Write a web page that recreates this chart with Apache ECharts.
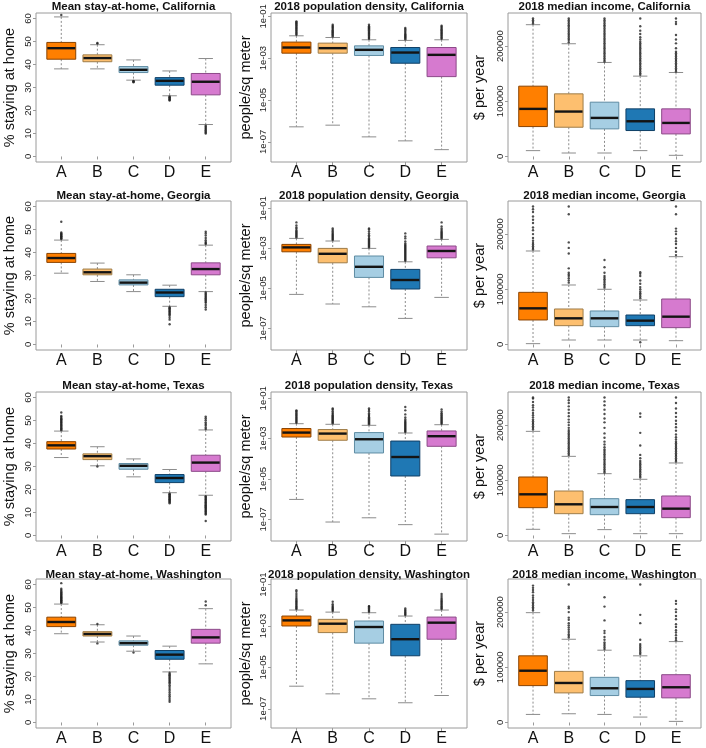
<!DOCTYPE html>
<html><head><meta charset="utf-8">
<script src="https://cdn.jsdelivr.net/npm/echarts@6/dist/echarts.min.js"></script>
<style>html,body{margin:0;padding:0;background:#fff}#c{width:706px;height:748px}</style>
</head><body><div id="c"></div>
<script>
// ---------------- data ----------------
const categories = ['A', 'B', 'C', 'D', 'E'];
const states = ['California', 'Georgia', 'Texas', 'Washington'];
const stayTicks = [0, 10, 20, 30, 40, 50, 60];
const densityTicks = [-7, -5, -3, -1];          // log10 exponents
const incomeTicks = [0, 100000, 200000];

// box stats: [lower whisker, Q1, median, Q3, upper whisker]
// Mean stay-at-home (%)
const stayCA = [[38.1, 42.3, 47.1, 49.6, 60.7], [38.1, 41.2, 42.8, 44.2, 48.6], [33.2, 36.5, 37.7, 39.1, 42.0], [26.4, 31.0, 32.9, 34.3, 37.2], [13.9, 26.8, 32.5, 36.1, 42.6]];
const stayGA = [[31.0, 35.7, 37.6, 39.6, 45.4], [27.4, 30.3, 31.4, 32.8, 35.4], [23.0, 25.9, 26.9, 28.1, 30.3], [16.6, 20.8, 22.6, 24.0, 25.8], [23.0, 30.3, 32.8, 35.5, 43.2]];
const stayTX = [[33.9, 37.6, 39.2, 40.8, 45.4], [30.3, 33.0, 34.5, 35.5, 38.6], [25.5, 28.8, 30.3, 31.3, 33.3], [18.6, 23.0, 25.0, 26.5, 28.7], [17.5, 27.9, 31.7, 34.9, 45.9]];
const stayWA = [[38.6, 41.7, 43.7, 45.8, 51.5], [35.0, 37.6, 38.5, 39.5, 42.5], [31.0, 33.6, 34.5, 35.5, 37.6], [22.0, 27.5, 29.5, 31.3, 33.2], [25.5, 34.5, 37.0, 40.5, 49.5]];
const stayCAOut = [[61.5], [49.1, 49.4], [32.9, 32.7, 32.5, 32.3], [26.1, 25.8, 25.5, 25.2, 24.9, 24.6, 24.3], [13.4, 12.9, 12.4, 11.9, 11.4, 10.9, 10.4, 10.0]];
const stayGAOut = [[45.9, 46.2, 46.5, 46.8, 47.1, 47.4, 47.7, 48.0, 48.3, 48.7, 53.4], [], [], [16.2, 15.8, 15.4, 15.0, 14.6, 14.2, 13.8, 13.4, 13.0, 12.5, 11.6, 10.8, 8.8], [43.7, 44.1, 44.6, 45.3, 46.3, 47.4, 48.3, 49.0, 22.6, 22.1, 21.6, 21.1, 20.6, 20.1, 19.6, 19.1, 18.6, 18.1, 17.2, 16.2, 15.2]];
const stayTXOut = [[45.8, 46.2, 46.6, 47.0, 47.4, 47.8, 48.2, 48.6, 49.0, 49.4, 49.8, 50.2, 50.6, 51.0, 51.5, 52.0, 53.5], [30.0], [], [18.2, 17.9, 17.6, 17.3, 17.0, 16.7, 16.4, 16.1, 15.8, 15.5, 15.2, 14.9, 14.5, 14.0], [46.3, 47.0, 47.8, 48.5, 49.2, 50.1, 51.0, 51.7, 17.1, 16.7, 16.3, 15.9, 15.5, 15.1, 14.7, 14.3, 13.9, 13.5, 13.1, 12.7, 12.3, 11.9, 11.5, 11.1, 10.7, 10.3, 9.9, 9.5, 9.1, 6.3]];
const stayWAOut = [[52.0, 52.3, 52.6, 52.9, 53.2, 53.5, 53.8, 54.1, 54.4, 54.7, 55.0, 55.4, 55.8, 56.2, 56.6, 57.1, 57.6, 58.2, 60.6], [34.4, 42.8], [30.4], [21.5, 21.0, 20.5, 20.0, 19.5, 19.0, 18.5, 18.0, 17.5, 17.0, 16.2, 15.4, 14.6, 13.8, 13.0, 12.2, 11.4, 10.6, 9.8, 9.0], [51.0, 52.6]];

// 2018 population density, log10(people / sq meter)
const denCA = [[-6.28, -2.76, -2.49, -2.23, -1.93], [-6.20, -2.76, -2.52, -2.28, -2.01], [-6.76, -2.87, -2.60, -2.41, -2.12], [-6.95, -3.24, -2.73, -2.49, -2.15], [-7.37, -3.88, -2.84, -2.49, -2.12]];
const denGA = [[-5.30, -3.17, -2.95, -2.80, -2.50], [-5.78, -3.72, -3.27, -3.00, -2.63], [-5.92, -4.45, -3.92, -3.38, -3.00], [-6.50, -5.03, -4.58, -4.05, -3.67], [-5.45, -3.47, -3.13, -2.88, -2.55]];
const denTX = [[-6.01, -2.92, -2.70, -2.50, -2.26], [-7.13, -3.08, -2.75, -2.55, -2.29], [-6.92, -3.71, -3.03, -2.70, -2.34], [-7.26, -4.85, -3.91, -3.12, -2.72], [-7.73, -3.38, -2.88, -2.62, -2.31]];
const denWA = [[-5.91, -3.00, -2.73, -2.52, -2.23], [-6.28, -3.32, -2.89, -2.68, -2.33], [-6.52, -3.83, -3.05, -2.76, -2.36], [-6.71, -4.44, -3.64, -2.92, -2.52], [-6.36, -3.64, -2.84, -2.57, -2.23]];
const denCAOut = [[-1.88, -1.83, -1.78, -1.73, -1.68, -1.63, -1.58, -1.53, -1.48, -1.43, -1.38, -1.33, -1.28, -1.24], [-1.96, -1.91, -1.86, -1.81, -1.76, -1.71, -1.66, -1.61, -1.56, -1.51, -1.46, -1.40], [-2.07, -2.02, -1.97, -1.92, -1.87, -1.82, -1.77, -1.72, -1.67, -1.62, -1.57, -1.52, -1.47, -1.40], [-2.10, -2.05, -2.00, -1.95, -1.90, -1.85, -1.80, -1.74, -1.68, -1.62, -1.56], [-2.07, -2.02, -1.97, -1.92, -1.87, -1.82, -1.77, -1.72, -1.67, -1.62, -1.56, -1.50, -1.45]];
const denGAOut = [[-2.45, -2.40, -2.35, -2.30, -2.25, -2.20, -2.15, -2.10, -2.02, -1.95, -1.85, -1.70], [-2.58, -2.53, -2.48, -2.43, -2.38, -2.33, -2.28, -2.22, -2.15, -2.08, -2.00], [-2.95, -2.90, -2.85, -2.80, -2.75, -2.70, -2.65, -2.60, -2.55, -2.50, -2.42, -2.34, -2.25, -2.15, -2.05, -2.00], [-3.62, -3.57, -3.52, -3.47, -3.42, -3.37, -3.32, -3.27, -3.22, -3.17, -3.12, -3.07, -3.02, -2.97, -2.92, -2.87, -2.82, -2.75, -2.65, -2.50, -2.40, -2.25], [-2.50, -2.45, -2.40, -2.35, -2.30, -2.25, -2.20, -2.15, -2.08, -2.00, -1.90, -1.70]];
const denTXOut = [[-2.21, -2.16, -2.11, -2.06, -2.01, -1.96, -1.91, -1.86, -1.81, -1.76, -1.70, -1.64, -1.60], [-2.24, -2.19, -2.14, -2.09, -2.04, -1.99, -1.94, -1.89, -1.84, -1.78, -1.72, -1.64, -1.56, -1.51], [-2.29, -2.24, -2.19, -2.14, -2.09, -2.04, -1.99, -1.94, -1.88, -1.82, -1.75, -1.66, -1.58, -1.51], [-2.67, -2.62, -2.57, -2.52, -2.47, -2.42, -2.37, -2.32, -2.27, -2.22, -2.17, -2.12, -2.05, -1.95, -1.80, -1.60, -1.43], [-2.26, -2.21, -2.16, -2.11, -2.06, -2.01, -1.96, -1.91, -1.86, -1.80, -1.74, -1.66, -1.56]];
const denWAOut = [[-2.18, -2.13, -2.08, -2.03, -1.98, -1.93, -1.88, -1.83, -1.78, -1.72, -1.65, -1.55, -1.45, -1.35, -1.27], [-2.28, -2.23, -2.18, -2.13, -2.08, -2.02, -1.95, -1.83], [-2.31, -2.26, -2.21, -2.16, -2.11, -2.06, -2.04], [-2.47, -2.42, -2.37, -2.32, -2.27, -2.22, -2.15], [-2.18, -2.13, -2.08, -2.03, -1.98, -1.93, -1.88, -1.83, -1.78, -1.72, -1.65, -1.55, -1.45]];

// 2018 median income ($ per year)
const incCA = [[10600, 54200, 86250, 127400, 238800], [6300, 53000, 81400, 113500, 204300], [6300, 50000, 69900, 98400, 170400], [10600, 47000, 63800, 86300, 145600], [2100, 40900, 60800, 86300, 152200]];
const incGA = [[1500, 44400, 65500, 94500, 169400], [8100, 34100, 47400, 64300, 107800], [8100, 32300, 47400, 60700, 100000], [8100, 34100, 43200, 53400, 80600], [6900, 30500, 50400, 82400, 159100]];
const incTX = [[11200, 50400, 74600, 106000, 188700], [3300, 39500, 56500, 80600, 143400], [10600, 37700, 51600, 66700, 112000], [3300, 39500, 51600, 64900, 101800], [3300, 32300, 48600, 71600, 131400]];
const incWA = [[14600, 66800, 93800, 120800, 199000], [15800, 53600, 71600, 92600, 150800], [14600, 48800, 62000, 81800, 131000], [9800, 45800, 60800, 75800, 120800], [2000, 44600, 63800, 86600, 146600]];
const incCAOut = [[241000, 244000, 247000, 250000], [207000, 211000, 214000, 217000, 220000, 223000, 226000, 229000, 232000, 235000, 238000, 241000, 244000, 247000, 250000], [172000, 175000, 178000, 181000, 184000, 187000, 190000, 193000, 196000, 199000, 202000, 205000, 208000, 211000, 214000, 217000, 220000, 223000, 226000, 229000, 232000, 235000, 238000, 241000, 244000, 247000, 250000], [148000, 151000, 154000, 157000, 160000, 163000, 166000, 169000, 172000, 175000, 178000, 181000, 184000, 187000, 190000, 193000, 196000, 199000, 202000, 205000, 208000, 212000, 216000, 222000, 228000, 236000, 250000], [154000, 157000, 160000, 163000, 166000, 169000, 172000, 175000, 178000, 181000, 184000, 187000, 190000, 196000, 205000, 212000, 220000, 240000, 244000, 250000]];
const incGAOut = [[172000, 175000, 178000, 181000, 184000, 188000, 193000, 200000, 207000, 212000, 220000, 226000, 232000, 240000, 245000, 250000], [112000, 116000, 120000, 124000, 127000, 130000, 138000, 165000, 175000, 185000, 236000, 250000], [103000, 106000, 109000, 112000, 115000, 118000, 121000, 124000, 130000, 140000, 153000], [84000, 87000, 90000, 93000, 96000, 100000, 104000, 110000, 116000, 124000, 128000, 131000, 4000], [162000, 168000, 175000, 182000, 187000, 192000, 200000, 205000, 210000, 236000, 250000]];
const incTXOut = [[192000, 195000, 198000, 201000, 204000, 207000, 210000, 214000, 218000, 222000, 227000, 232000, 236000, 242000, 248000, 250000], [146000, 149000, 152000, 155000, 158000, 161000, 164000, 167000, 170000, 173000, 176000, 179000, 182000, 185000, 188000, 191000, 195000, 200000, 205000, 210000, 216000, 222000, 228000, 234000, 240000, 245000, 250000], [114000, 117000, 120000, 123000, 126000, 129000, 132000, 135000, 138000, 141000, 144000, 147000, 150000, 153000, 156000, 160000, 165000, 170000, 177000, 185000, 195000, 205000, 212000, 220000, 228000, 236000, 243000, 250000], [105000, 108000, 111000, 114000, 117000, 120000, 123000, 126000, 129000, 132000, 135000, 140000, 146000, 163000, 186000, 215000, 221000], [134000, 137000, 140000, 143000, 146000, 149000, 152000, 155000, 158000, 161000, 164000, 167000, 170000, 174000, 178000, 183000, 190000, 196000, 202000, 208000, 215000, 222000, 230000, 240000, 250000]];
const incWAOut = [[203000, 206000, 209000, 212000, 215000, 218000, 222000, 226000, 230000, 236000, 240000, 244000, 248000], [154000, 157000, 160000, 164000, 168000, 172000, 176000, 180000, 186000, 190000, 200000, 207000, 210000, 250000], [133000, 136000, 139000, 142000, 145000, 150000, 155000, 162000, 166000, 185000, 210000, 227000], [124000, 127000, 130000, 133000, 136000, 139000, 142000, 150000, 180000, 195000, 250000], [149000, 153000, 158000, 163000, 167000, 173000, 178000, 187000, 193000, 200000, 205000, 215000, 220000]];

// ---------------- layout / style ----------------
const FONT = "'Liberation Sans', Arial, Helvetica, sans-serif";
const fills = ['#FF7F00', '#FDBF6F', '#A6CEE3', '#1F78B4', '#D67ACF'];
const borders = ['#8A4300', '#9E7C48', '#5F8CA3', '#0F3F66', '#8C4A88'];
const colLeft = [36, 271, 508];
const colWidth = [195, 196, 193];
const rowTop = [13, 201, 392, 579];
const plotH = 149;

const stayLimits = [-2.4, 62.4];
const densityLimits = [[-7.96, -0.84], [-8.08, -0.63], [-8.07, -0.69], [-7.93, -0.73]];
const incomeLimits = [-10000, 260000];

const panels = [
  [stayCA, stayCAOut, denCA, denCAOut, incCA, incCAOut],
  [stayGA, stayGAOut, denGA, denGAOut, incGA, incGAOut],
  [stayTX, stayTXOut, denTX, denTXOut, incTX, incTXOut],
  [stayWA, stayWAOut, denWA, denWAOut, incWA, incWAOut]
];

function renderBox(params, api) {
  const x = api.value(0);
  const lo = api.coord([x, api.value(1)]);
  const q1 = api.coord([x, api.value(2)]);
  const md = api.coord([x, api.value(3)]);
  const q3 = api.coord([x, api.value(4)]);
  const hi = api.coord([x, api.value(5)]);
  const k = api.value(6);
  const w = api.size([0.8, 0])[0];
  const cx = md[0];
  const wc = w / 4;
  const dash = { stroke: '#8c8c8c', lineWidth: 1, lineDash: [2, 2] };
  const cap = { stroke: '#8c8c8c', lineWidth: 1 };
  return {
    type: 'group',
    children: [
      { type: 'line', shape: { x1: cx, y1: hi[1], x2: cx, y2: q3[1] }, style: dash },
      { type: 'line', shape: { x1: cx, y1: q1[1], x2: cx, y2: lo[1] }, style: dash },
      { type: 'line', shape: { x1: cx - wc, y1: hi[1], x2: cx + wc, y2: hi[1] }, style: cap },
      { type: 'line', shape: { x1: cx - wc, y1: lo[1], x2: cx + wc, y2: lo[1] }, style: cap },
      { type: 'rect', shape: { x: cx - w / 2, y: q3[1], width: w, height: q1[1] - q3[1] }, style: { fill: fills[k], stroke: borders[k], lineWidth: 1 } },
      { type: 'line', shape: { x1: cx - w / 2 + 0.5, y1: md[1], x2: cx + w / 2 - 0.5, y2: md[1] }, style: { stroke: '#141414', lineWidth: 2.4 } }
    ]
  };
}

const grids = [], xAxes = [], yAxes = [], series = [], titles = [];
const titleTop = [0, 189, 379, 568];
const yNames = ['% staying at home', 'people/sq meter', '$ per year'];
const nameGaps = [19, 18, 21];

for (let r = 0; r < 4; r++) {
  for (let c = 0; c < 3; c++) {
    const g = r * 3 + c;
    grids.push({ left: colLeft[c], top: rowTop[r], width: colWidth[c], height: plotH,
      show: true, borderColor: '#9a9a9a', borderWidth: 1, backgroundColor: '#fff', containLabel: false });
    xAxes.push({
      gridIndex: g, type: 'value', min: 0.3, max: 5.7,
      axisLine: { show: false }, splitLine: { show: false },
      axisTick: { show: true, customValues: [1, 2, 3, 4, 5], length: 3, lineStyle: { color: '#9a9a9a' } },
      axisLabel: { customValues: [1, 2, 3, 4, 5], formatter: v => categories[Math.round(v) - 1],
        fontSize: 16, fontFamily: FONT, color: '#111', margin: 3 }
    });
    let lim, ticks, fmt;
    if (c === 0) { lim = stayLimits; ticks = stayTicks; fmt = v => String(v); }
    else if (c === 1) { lim = densityLimits[r]; ticks = densityTicks; fmt = v => '1e-0' + Math.abs(v); }
    else { lim = incomeLimits; ticks = incomeTicks; fmt = v => String(v); }
    yAxes.push({
      gridIndex: g, type: 'value', min: lim[0], max: lim[1],
      axisLine: { show: false }, splitLine: { show: false },
      axisTick: { show: true, customValues: ticks, length: 3, lineStyle: { color: '#9a9a9a' } },
      axisLabel: { customValues: ticks, formatter: fmt, rotate: 90, fontSize: 9.5, fontFamily: FONT, color: '#222', margin: 3 },
      name: yNames[c], nameLocation: 'middle', nameGap: nameGaps[c], nameRotate: 90,
      nameTextStyle: { fontSize: 14.5, fontFamily: FONT, color: '#111' }
    });
    const boxes = panels[r][c * 2];
    const outs = panels[r][c * 2 + 1];
    series.push({
      type: 'custom', xAxisIndex: g, yAxisIndex: g, renderItem: renderBox, silent: true,
      encode: { x: 0, y: [1, 2, 3, 4, 5] },
      data: boxes.map((b, i) => [i + 1, b[0], b[1], b[2], b[3], b[4], i])
    });
    const pts = [];
    outs.forEach((arr, i) => arr.forEach(v => pts.push([i + 1, v])));
    series.push({
      type: 'scatter', xAxisIndex: g, yAxisIndex: g, silent: true, z: 3,
      symbol: 'circle', symbolSize: 2.4, itemStyle: { color: '#222', opacity: 0.8 },
      data: pts
    });
    const ttl = c === 0 ? 'Mean stay-at-home, ' : (c === 1 ? '2018 population density, ' : '2018 median income, ');
    titles.push({
      text: ttl + states[r], left: colLeft[c] + colWidth[c] / 2, top: titleTop[r], textAlign: 'center', padding: 0,
      textStyle: { fontSize: 11.5, fontWeight: 'bold', fontFamily: FONT, color: '#111', lineHeight: 13 }
    });
  }
}

const chart = echarts.init(document.getElementById('c'), null, { renderer: 'canvas' });
chart.setOption({
  backgroundColor: '#fff',
  animation: false,
  title: titles,
  grid: grids,
  xAxis: xAxes,
  yAxis: yAxes,
  series: series
});
</script>
</body></html>
